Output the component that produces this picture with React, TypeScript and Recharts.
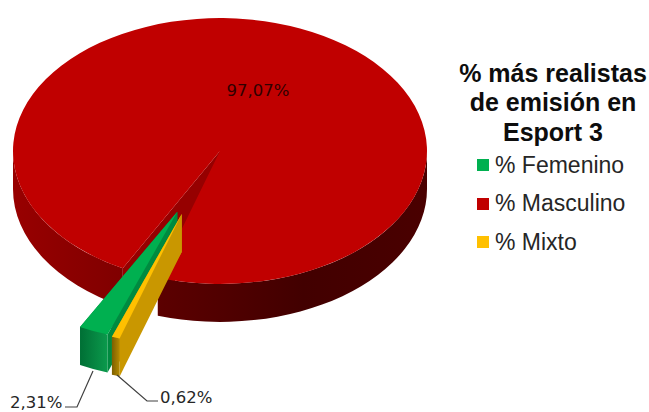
import { PieChart, Pie, Cell, Legend } from "recharts";

const CATEGORIES = ["% Femenino", "% Masculino", "% Mixto"];
const VALUES = [2.31, 97.07, 0.62];
const TITLE_LINES = ["% más realistas", "de emisión en", "Esport 3"];

const COLORS = ["#00B050", "#C00000", "#FFC000"];
const WALL_COLORS = ["#008a40", "#960000", "#c99700"];
const SIDE_STOPS = [
  ["#006f35", "#0b9a4c"],
  ["#980000", "#800000", "#5c0000", "#420000", "#4a0000"],
  ["#7d5f00", "#b48a00"],
];

const DEPTH = 38;
const MAIN_TILT = 0.642;
const WEDGE_TILT = 0.63;
// how far each slice is pulled out, as a share of the radius
const EXPLODE_X = [0.51, 0, 0.58];
const EXPLODE_Y = [0.5, 0, 0.5];

const data = CATEGORIES.map((name, i) => ({ name, value: VALUES[i] }));

const rad = (d: number) => (d * Math.PI) / 180;
const pt = (cx: number, cy: number, rx: number, ry: number, deg: number) => [
  cx + rx * Math.cos(rad(deg)),
  cy - ry * Math.sin(rad(deg)),
];

function Slice(props: any) {
  const { name, startAngle, endAngle, outerRadius } = props;
  const i = CATEGORIES.indexOf(name);
  const isMain = i === 1;
  const rx = outerRadius;
  const ry = rx * (isMain ? MAIN_TILT : WEDGE_TILT);
  const mid = (startAngle + endAngle) / 2;
  const cx = props.cx + EXPLODE_X[i] * rx * Math.cos(rad(mid));
  const cy = props.cy - EXPLODE_Y[i] * rx * MAIN_TILT * Math.sin(rad(mid));

  const [sx, sy] = pt(cx, cy, rx, ry, startAngle);
  const [ex, ey] = pt(cx, cy, rx, ry, endAngle);
  const large = startAngle - endAngle > 180 ? 1 : 0;
  const top = `M${cx},${cy} L${sx},${sy} A${rx},${ry} 0 ${large} 1 ${ex},${ey} Z`;

  // outer wall, only where the rim faces the viewer
  const ranges = [
    [Math.min(startAngle, 360), Math.max(endAngle, 180)],
    [Math.min(startAngle, 0), Math.max(endAngle, -180)],
  ].filter(([a, b]) => a > b);
  const grad = `side-${i}`;
  const xMin = isMain ? cx - rx : Math.min(sx, ex);
  const xMax = isMain ? cx + rx : Math.max(sx, ex);
  const stops = SIDE_STOPS[i];
  // main rim darkens quickly towards the notch, then stays dark
  const offsets = isMain ? [0, 0.26, 0.35, 0.7, 1] : [0, 1];

  return (
    <g>
      <defs>
        <linearGradient id={grad} gradientUnits="userSpaceOnUse" x1={xMin} x2={xMax} y1={0} y2={0}>
          {stops.map((c, k) => (
            <stop key={k} offset={offsets[k]} stopColor={c} />
          ))}
        </linearGradient>
      </defs>
      {/* inner walls */}
      <path
        d={`M${cx},${cy} L${sx},${sy} L${sx},${sy + DEPTH} L${cx},${cy + DEPTH} Z`}
        fill={WALL_COLORS[i]}
      />
      <path
        d={`M${cx},${cy} L${ex},${ey} L${ex},${ey + DEPTH} L${cx},${cy + DEPTH} Z`}
        fill={WALL_COLORS[i]}
      />
      {ranges.map(([a, b]) => {
        const [ax, ay] = pt(cx, cy, rx, ry, a);
        const [bx, by] = pt(cx, cy, rx, ry, b);
        return (
          <path
            key={a}
            d={`M${ax},${ay} A${rx},${ry} 0 0 1 ${bx},${by} L${bx},${by + DEPTH} A${rx},${ry} 0 0 0 ${ax},${ay + DEPTH} Z`}
            fill={`url(#${grad})`}
          />
        );
      })}
      <path d={top} fill={COLORS[i]} />
    </g>
  );
}

const fmt = (v: number) => v.toFixed(2).replace(".", ",") + "%";

function SliceLabel(props: any) {
  const { name, value } = props;
  const textStyle = { fontFamily: "'DejaVu Sans'", fontSize: 16.5, fill: "#262626" };
  if (name === CATEGORIES[1]) {
    return <text x={258} y={96} textAnchor="middle" {...textStyle} fill="#300000">{fmt(value)}</text>;
  }
  if (name === CATEGORIES[0]) {
    return (
      <g>
        <polyline points="93,371 77,407 65,407" fill="none" stroke="#404040" strokeWidth={1.2} />
        <text x={10} y={408} {...textStyle}>{fmt(value)}</text>
      </g>
    );
  }
  return (
    <g>
      <polyline points="117,375 147,401 158,401" fill="none" stroke="#404040" strokeWidth={1.2} />
      <text x={160} y={403} {...textStyle}>{fmt(value)}</text>
    </g>
  );
}

function LegendBox() {
  return (
    <div style={{ width: 196, fontFamily: "'Liberation Sans'", color: "#000" }}>
      <div style={{ textAlign: "center", fontWeight: 700, fontSize: 25, lineHeight: "29.5px", color: "#0d0d0d", whiteSpace: "nowrap" }}>
        {TITLE_LINES.map((t) => (
          <div key={t}>{t}</div>
        ))}
      </div>
      <div style={{ marginTop: -1 }}>
        {CATEGORIES.map((c, i) => (
          <div key={c} style={{ display: "flex", alignItems: "center", height: 38.5, paddingLeft: 22, fontSize: 23, color: "#262626" }}>
            <span style={{ width: 12, height: 12, background: COLORS[i], marginRight: 6 }} />
            {c}
          </div>
        ))}
      </div>
    </div>
  );
}

export default function App() {
  const pieProps = {
    data,
    dataKey: "value",
    nameKey: "name",
    cx: 220,
    cy: 151,
    innerRadius: 0,
    outerRadius: 207,
    startAngle: 250.3,
    endAngle: 250.3 - 360,
    stroke: "none",
    isAnimationActive: false,
  };
  return (
    <div style={{ position: "absolute", left: 0, top: 0, width: 649, height: 412, background: "#fff", overflow: "hidden" }}>
      <PieChart width={649} height={412} margin={{ top: 0, right: 0, bottom: 0, left: 0 }}>
        {/* main slice first so the pulled-out wedges sit on top of it */}
        <Pie {...pieProps} shape={(p: any) => (p.name === CATEGORIES[1] ? <Slice {...p} /> : <g />)}>
          {data.map((d, i) => <Cell key={d.name} fill={COLORS[i]} />)}
        </Pie>
        <Pie
          {...pieProps}
          shape={(p: any) => (p.name === CATEGORIES[1] ? <g /> : <Slice {...p} />)}
          label={SliceLabel}
          labelLine={false}
        >
          {data.map((d, i) => <Cell key={d.name} fill={COLORS[i]} />)}
        </Pie>
        <Legend content={<LegendBox />} wrapperStyle={{ left: 455, top: 58.6, width: 194, bottom: "auto" }} />
      </PieChart>
    </div>
  );
}
